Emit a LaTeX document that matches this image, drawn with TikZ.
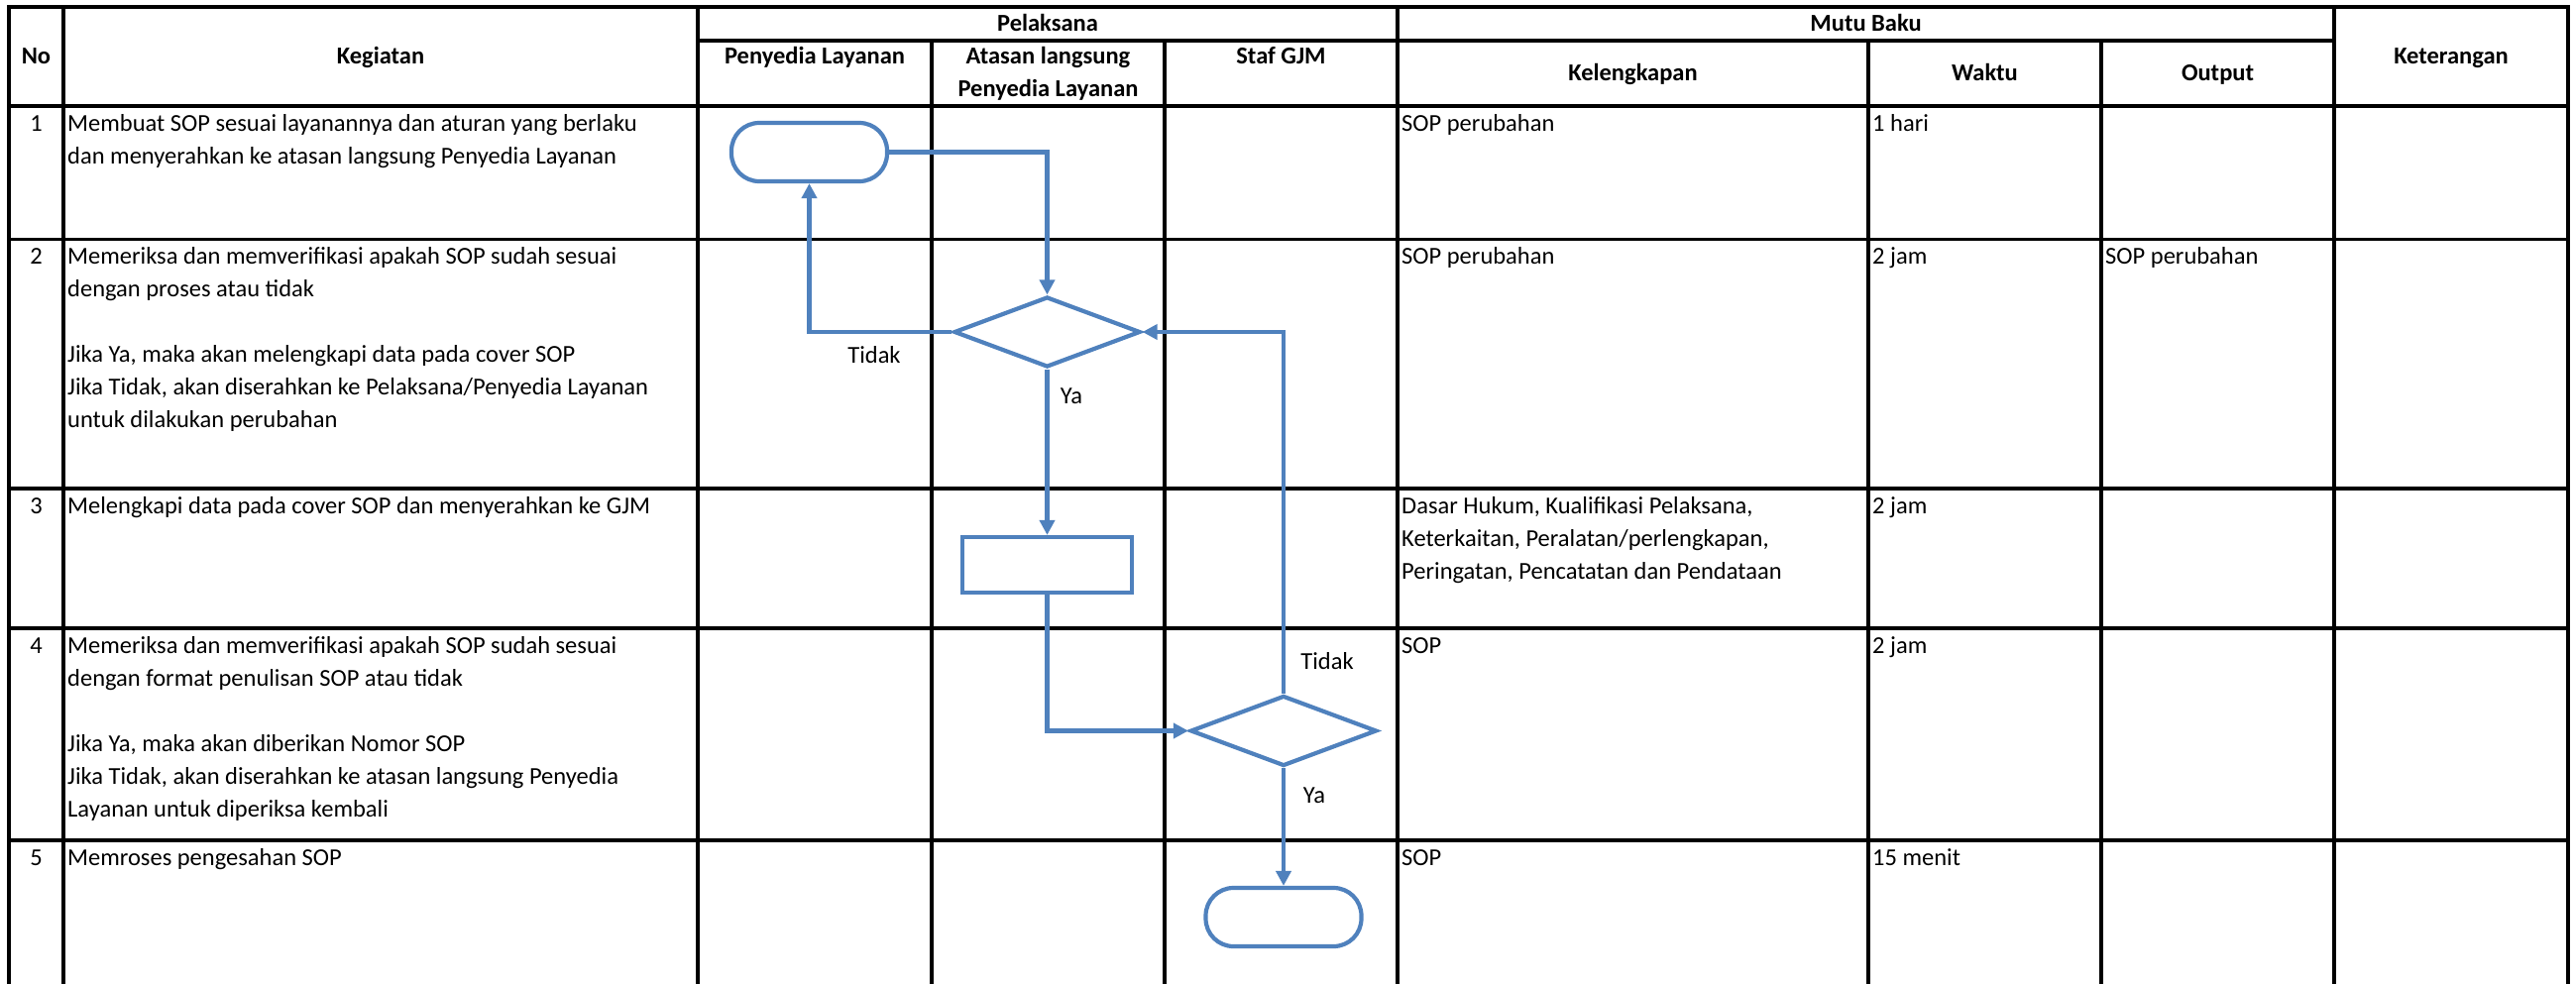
\documentclass[tikz,border=0pt]{standalone}
\usepackage{fontspec}
\setmainfont{Carlito}
\usetikzlibrary{shapes.geometric,arrows.meta}
\definecolor{flowblue}{RGB}{79,129,189}
\begin{document}
\begin{tikzpicture}[x=1pt,y=-1pt,
  grid/.style={line width=3.2pt,black,line cap=rect},
  body/.style={font=\fontsize{24.5}{33}\selectfont,inner sep=0pt,align=left,anchor=north west},
  numtxt/.style={font=\fontsize{24.5}{33}\selectfont,inner sep=0pt,anchor=north},
  head/.style={font=\fontsize{24.5}{33}\selectfont\bfseries,inner sep=0pt,anchor=base},
  lbl/.style={font=\fontsize{24.5}{33}\selectfont,inner sep=0pt},
  term/.style={draw=flowblue,line width=4.2pt,rectangle,rounded corners=28pt,minimum width=157pt,minimum height=59pt,inner sep=0pt},
  proc/.style={draw=flowblue,line width=4.2pt,rectangle,minimum width=171pt,minimum height=56pt,inner sep=0pt},
  dec/.style={draw=flowblue,line width=4.2pt,diamond,minimum width=188pt,minimum height=71pt,inner sep=0pt},
  flow/.style={draw=flowblue,line width=4.2pt,-{Triangle[length=15pt,width=15pt]}}]
\useasboundingbox (0,0) rectangle (2599,993);
\fill[white] (0,0) rectangle (2599,993);
% table grid
\draw[grid] (9,7) -- (2591,7);
\draw[grid] (704,41) -- (2355,41);
\foreach \yy in {107,241.5,493,634,848} \draw[grid] (9,\yy) -- (2591,\yy);
\foreach \xx in {9,64,704,1410,2355,2591} \draw[grid] (\xx,7) -- (\xx,995);
\foreach \xx in {940,1175,1885,2120} \draw[grid] (\xx,41) -- (\xx,995);
% headers
\node[head] (hno) at (36.5,64) {No};
\node[head] (hkeg) at (384,64) {Kegiatan};
\node[head] (hpel) at (1057,31) {Pelaksana};
\node[head] (hpen) at (822,64) {Penyedia Layanan};
\node[head,anchor=north,align=center] (hata) at (1057.5,41) {\strut Atasan langsung\\Penyedia Layanan};
\node[head] (hstaf) at (1292.5,64) {Staf GJM};
\node[head] (hmutu) at (1882.5,31) {Mutu Baku};
\node[head] (hkel) at (1647.5,81.7) {Kelengkapan};
\node[head] (hwak) at (2002.5,81.7) {Waktu};
\node[head] (hout) at (2237.5,81.7) {Output};
\node[head] (hket) at (2473,64) {Keterangan};
% numbers
\node[numtxt] (n1) at (36.5,109) {\strut 1};
\node[numtxt] (n2) at (36.5,243.5) {\strut 2};
\node[numtxt] (n3) at (36.5,495) {\strut 3};
\node[numtxt] (n4) at (36.5,636) {\strut 4};
\node[numtxt] (n5) at (36.5,850) {\strut 5};
% kegiatan
\node[body] (k1) at (68,109) {\strut Membuat SOP sesuai layanannya dan aturan yang berlaku\\dan menyerahkan ke atasan langsung Penyedia Layanan};
\node[body] (k2) at (68,243.5) {\strut Memeriksa dan memverifikasi apakah SOP sudah sesuai\\dengan proses atau tidak\\[33pt]Jika Ya, maka akan melengkapi data pada cover SOP\\Jika Tidak, akan diserahkan ke Pelaksana/Penyedia Layanan\\untuk dilakukan perubahan};
\node[body] (k3) at (68,495) {\strut Melengkapi data pada cover SOP dan menyerahkan ke GJM};
\node[body] (k4) at (68,636) {\strut Memeriksa dan memverifikasi apakah SOP sudah sesuai\\dengan format penulisan SOP atau tidak\\[33pt]Jika Ya, maka akan diberikan Nomor SOP\\Jika Tidak, akan diserahkan ke atasan langsung Penyedia\\Layanan untuk diperiksa kembali};
\node[body] (k5) at (68,850) {\strut Memroses pengesahan SOP};
% kelengkapan
\node[body] (c1) at (1414,109) {\strut SOP perubahan};
\node[body] (c2) at (1414,243.5) {\strut SOP perubahan};
\node[body] (c3) at (1414,495) {\strut Dasar Hukum, Kualifikasi Pelaksana,\\Keterkaitan, Peralatan/perlengkapan,\\Peringatan, Pencatatan dan Pendataan};
\node[body] (c4) at (1414,636) {\strut SOP};
\node[body] (c5) at (1414,850) {\strut SOP};
% waktu
\node[body] (w1) at (1889,109) {\strut 1 hari};
\node[body] (w2) at (1889,243.5) {\strut 2 jam};
\node[body] (w3) at (1889,495) {\strut 2 jam};
\node[body] (w4) at (1889,636) {\strut 2 jam};
\node[body] (w5) at (1889,850) {\strut 15 menit};
% output
\node[body] (o2) at (2124,243.5) {\strut SOP perubahan};
% flowchart
\node[term] (t1) at (816.5,153.5) {};
\node[dec] (d1) at (1056.5,335) {};
\node[proc] (p1) at (1056.5,570) {};
\node[dec] (d2) at (1295,737.5) {};
\node[term] (t2) at (1295,925.5) {};
\draw[flow] (t1.east) -| (d1.north);
\draw[flow] (d1.west) -| (t1.south);
\draw[flow] (d1.south) -- (p1.north);
\draw[flow] (p1.south) |- (d2.west);
\draw[flow] (d2.north) |- (d1.east);
\draw[flow] (d2.south) -- (t2.north);
\node[lbl] (l1) at (882,358) {Tidak};
\node[lbl] (l2) at (1081,400) {Ya};
\node[lbl] (l3) at (1339,667) {Tidak};
\node[lbl] (l4) at (1326,803) {Ya};
\end{tikzpicture}
\end{document}
